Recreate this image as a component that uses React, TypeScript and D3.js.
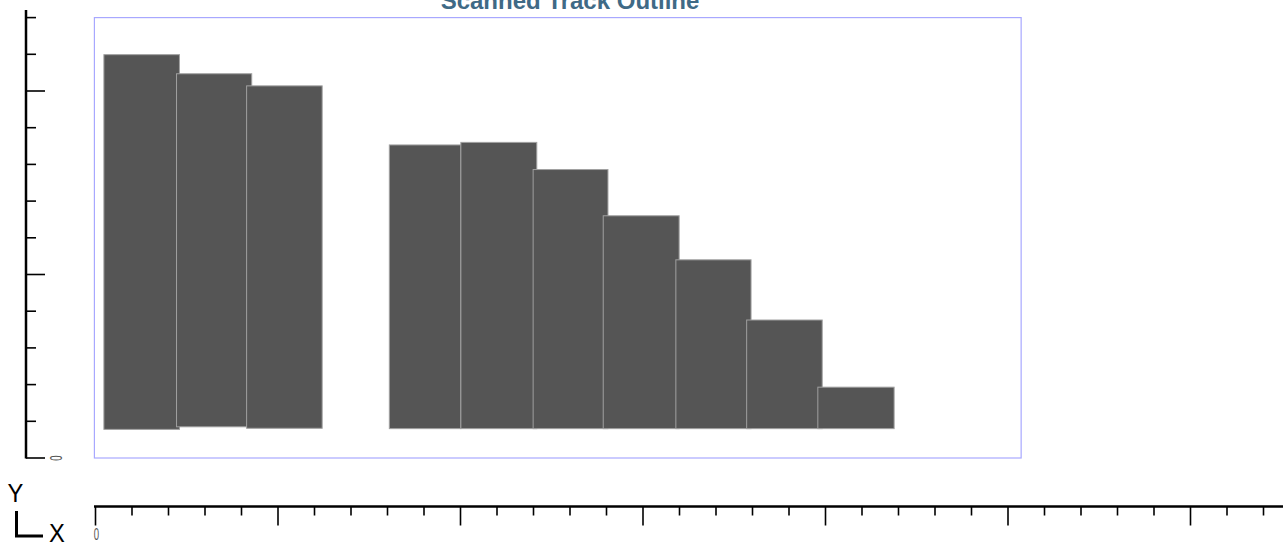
import React from "react";
import * as d3 from "d3";

const title = "Scanned Track Outline";
// bar extents in axis units
const barX0 = [0.23, 2.22, 4.14, 8.05, 10.01, 11.99, 13.91, 15.9, 17.84, 19.79];
const barX1 = [2.3, 4.28, 6.21, 10.01, 12.09, 14.04, 15.99, 17.96, 19.91, 21.88];
const barTop = [10.99, 10.47, 10.14, 8.53, 8.6, 7.86, 6.6, 5.4, 3.76, 1.93];
const barBase = [0.78, 0.85, 0.81, 0.8, 0.8, 0.8, 0.8, 0.8, 0.8, 0.8];
const xTickValues = d3.range(0, 33);
const yTickValues = d3.range(0, 13);
const xTickLabels = ["0"];
const yTickLabels = ["0"];

const W = 1283;
const H = 543;

export default function App() {
  const x = d3.scaleLinear().domain([0, 1]).range([95.5, 132]);
  const y = d3.scaleLinear().domain([0, 1]).range([458, 421.3]);
  const axisY = 506.5;
  const axisX = 26;

  return (
    <svg
      width={W}
      height={H}
      style={{ position: "absolute", left: 0, top: 0, background: "#fff", overflow: "hidden" }}
      fontFamily="Liberation Sans, Arial, sans-serif"
    >
      <text
        x={570}
        y={9}
        textAnchor="middle"
        fontSize={24}
        fontWeight="bold"
        fill="#3f6a86"
      >
        {title}
      </text>
      {/* frame */}
      <rect
        x={x(-0.03)}
        y={y(12)}
        width={x(25.36) - x(-0.03)}
        height={y(0) - y(12)}
        fill="none"
        stroke="#a8a8ff"
        strokeWidth={1.2}
      />
      {/* bars */}
      {barTop.map((t, i) => (
        <rect
          key={i}
          x={x(barX0[i])}
          y={y(t)}
          width={x(barX1[i]) - x(barX0[i])}
          height={y(barBase[i]) - y(t)}
          fill="#555555"
          stroke="#a0a0a0"
          strokeWidth={1}
        />
      ))}
      {/* left axis */}
      <line x1={axisX} x2={axisX} y1={10} y2={y(0) + 0.5} stroke="#000" strokeWidth={2.5} />
      {yTickValues.map((v) => (
        <line
          key={v}
          x1={axisX}
          x2={axisX + (v % 5 === 0 ? 19 : 10)}
          y1={y(v)}
          y2={y(v)}
          stroke="#000"
          strokeWidth={1.6}
        />
      ))}
      <g transform={`translate(56,${y(0)}) rotate(-90) scale(0.6,1)`}>
        <text x={0} y={6} textAnchor="middle" fontSize={16} fill="#555">
          {yTickLabels[0]}
        </text>
      </g>
      {/* bottom axis */}
      <line x1={94} x2={W} y1={axisY} y2={axisY} stroke="#000" strokeWidth={2.5} />
      {xTickValues.map((v) => (
        <line
          key={v}
          x1={x(v)}
          x2={x(v)}
          y1={axisY}
          y2={axisY + (v % 5 === 0 ? 19 : 9)}
          stroke="#000"
          strokeWidth={1.6}
        />
      ))}
      <g transform={`translate(${x(0) + 1},540) scale(0.6,1)`}>
        <text x={0} y={0} textAnchor="middle" fontSize={16} fill="#555">
          {xTickLabels[0]}
        </text>
      </g>
      {/* axes indicator */}
      <g transform="translate(15.5,502) scale(0.95,1)">
        <text x={0} y={0} textAnchor="middle" fontSize={25} fill="#000">Y</text>
      </g>
      <path d="M16.5,511 V536 H43" fill="none" stroke="#000" strokeWidth={3} />
      <g transform="translate(57,542) scale(0.95,1)">
        <text x={0} y={0} textAnchor="middle" fontSize={25} fill="#000">X</text>
      </g>
    </svg>
  );
}
